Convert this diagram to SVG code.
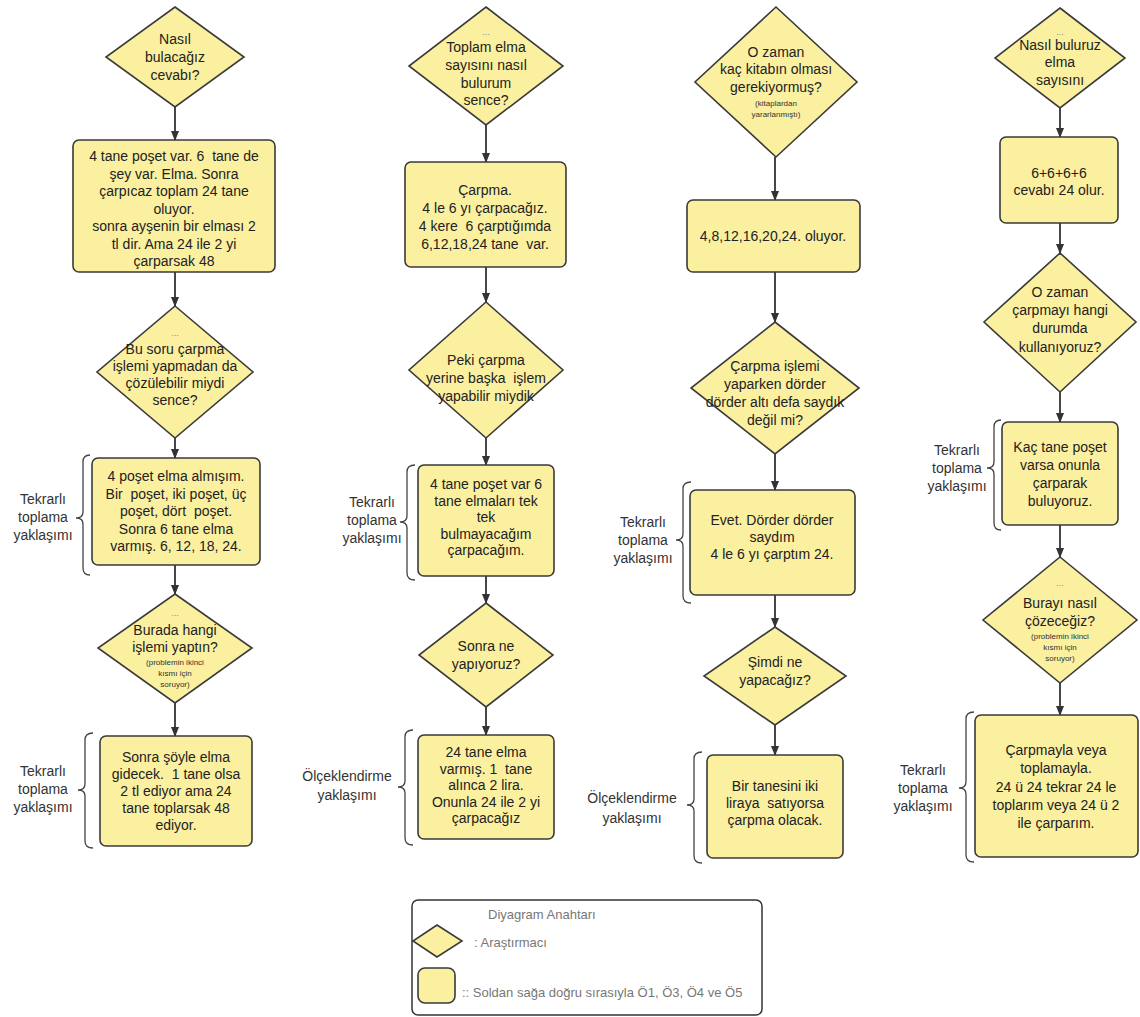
<svg xmlns="http://www.w3.org/2000/svg" width="1140" height="1017" viewBox="0 0 1140 1017">
<style>
text{white-space:pre}
.n{fill:#fbf0a0;stroke:#3a3a3a;stroke-width:1.6}
.t{font-family:"Liberation Sans",Arial,sans-serif;font-size:14px;fill:#222;text-anchor:middle}
.s{font-family:"Liberation Sans",Arial,sans-serif;font-size:8px;fill:#333;text-anchor:middle}
.d{font-family:"Liberation Sans",Arial,sans-serif;font-size:9px;fill:#888;text-anchor:middle}
.l{font-family:"Liberation Sans",Arial,sans-serif;font-size:14px;fill:#333;text-anchor:middle}
.c{fill:none;stroke:#333;stroke-width:1.8}
.b{fill:none;stroke:#444;stroke-width:1.3}
.k{font-family:"Liberation Sans",Arial,sans-serif;font-size:13px;fill:#777}
</style>
<defs>
<marker id="ah" markerWidth="10" markerHeight="10" refX="9" refY="5" orient="auto" markerUnits="userSpaceOnUse">
<path d="M0,1 L10,5 L0,9 z" fill="#333"/>
</marker>
</defs>
<rect width="1140" height="1017" fill="#ffffff"/>

<g id="connectors">
<line class="c" x1="175" y1="107" x2="175" y2="140" marker-end="url(#ah)"/>
<line class="c" x1="175" y1="272" x2="175" y2="306" marker-end="url(#ah)"/>
<line class="c" x1="175" y1="438" x2="175" y2="458" marker-end="url(#ah)"/>
<line class="c" x1="175" y1="565" x2="175" y2="594" marker-end="url(#ah)"/>
<line class="c" x1="175" y1="703" x2="175" y2="736" marker-end="url(#ah)"/>

<line class="c" x1="486" y1="125" x2="486" y2="162" marker-end="url(#ah)"/>
<line class="c" x1="486" y1="267" x2="486" y2="302" marker-end="url(#ah)"/>
<line class="c" x1="486" y1="438" x2="486" y2="465" marker-end="url(#ah)"/>
<line class="c" x1="486" y1="576" x2="486" y2="603" marker-end="url(#ah)"/>
<line class="c" x1="486" y1="707" x2="486" y2="735" marker-end="url(#ah)"/>

<line class="c" x1="775" y1="157" x2="775" y2="200" marker-end="url(#ah)"/>
<line class="c" x1="775" y1="272" x2="775" y2="322" marker-end="url(#ah)"/>
<line class="c" x1="775" y1="454" x2="775" y2="490" marker-end="url(#ah)"/>
<line class="c" x1="775" y1="595" x2="775" y2="627" marker-end="url(#ah)"/>
<line class="c" x1="775" y1="725" x2="775" y2="755" marker-end="url(#ah)"/>

<line class="c" x1="1060" y1="108" x2="1060" y2="137" marker-end="url(#ah)"/>
<line class="c" x1="1060" y1="223" x2="1060" y2="253" marker-end="url(#ah)"/>
<line class="c" x1="1060" y1="392" x2="1060" y2="422" marker-end="url(#ah)"/>
<line class="c" x1="1060" y1="525" x2="1060" y2="557" marker-end="url(#ah)"/>
<line class="c" x1="1060" y1="683" x2="1060" y2="715" marker-end="url(#ah)"/>
</g>

<!-- Column 1 -->
<g id="d1">
<polygon class="n" points="175,7 244,57 175,107 106,57"/>
<text class="t" x="175" y="44">Nasıl</text>
<text class="t" x="175" y="62">bulacağız</text>
<text class="t" x="175" y="80">cevabı?</text>
</g>
<g id="r1">
<rect class="n" x="73" y="140" width="202" height="132" rx="6"/>
<text class="t" x="174" y="161">4 tane poşet var. 6  tane de</text>
<text class="t" x="174" y="178.5">şey var. Elma. Sonra</text>
<text class="t" x="174" y="196">çarpıcaz toplam 24 tane</text>
<text class="t" x="174" y="213.5">oluyor.</text>
<text class="t" x="174" y="231">sonra ayşenin bir elması 2</text>
<text class="t" x="174" y="248.5">tl dir. Ama 24 ile 2 yi</text>
<text class="t" x="174" y="266">çarparsak 48</text>
</g>
<g id="d2">
<polygon class="n" points="175,306 253,372 175,438 97,372"/>
<text class="d" x="175" y="336">...</text>
<text class="t" x="175" y="354">Bu soru çarpma</text>
<text class="t" x="175" y="371">işlemi yapmadan da</text>
<text class="t" x="175" y="388">çözülebilir miydi</text>
<text class="t" x="175" y="405">sence?</text>
</g>
<g id="r2">
<rect class="n" x="92" y="458" width="168" height="107" rx="6"/>
<text class="t" x="176" y="481">4 poşet elma almışım.</text>
<text class="t" x="176" y="498.5">Bir  poşet, iki poşet, üç</text>
<text class="t" x="176" y="516">poşet, dört  poşet.</text>
<text class="t" x="176" y="533.5">Sonra 6 tane elma</text>
<text class="t" x="176" y="551">varmış. 6, 12, 18, 24.</text>
</g>
<g id="lab1">
<path class="b" d="M90,455 Q83,455 83,462 L83,512 Q83,518 76,518 Q83,518 83,524 L83,568 Q83,575 90,575"/>
<text class="l" x="43" y="504">Tekrarlı</text>
<text class="l" x="43" y="522">toplama</text>
<text class="l" x="43" y="540">yaklaşımı</text>
</g>
<g id="d3">
<polygon class="n" points="175,594 252,648 175,703 98,648"/>
<text class="d" x="175" y="616">...</text>
<text class="t" x="175" y="635">Burada hangi</text>
<text class="t" x="175" y="652">işlemi yaptın?</text>
<text class="s" x="175" y="665">(problemin ikinci</text>
<text class="s" x="175" y="676">kısmı için</text>
<text class="s" x="175" y="687">soruyor)</text>
</g>
<g id="r3">
<rect class="n" x="100" y="736" width="152" height="110" rx="6"/>
<text class="t" x="176" y="762">Sonra şöyle elma</text>
<text class="t" x="176" y="779">gidecek.  1 tane olsa</text>
<text class="t" x="176" y="796">2 tl ediyor ama 24</text>
<text class="t" x="176" y="813">tane toplarsak 48</text>
<text class="t" x="176" y="830">ediyor.</text>
</g>
<g id="lab2">
<path class="b" d="M93,733 Q85,733 85,740 L85,784 Q85,790 78,790 Q85,790 85,796 L85,841 Q85,848 93,848"/>
<text class="l" x="43" y="776">Tekrarlı</text>
<text class="l" x="43" y="794">toplama</text>
<text class="l" x="43" y="812">yaklaşımı</text>
</g>

<!-- Column 2 -->
<g id="d4">
<polygon class="n" points="486,7 563,66 486,125 409,66"/>
<text class="d" x="486" y="35">...</text>
<text class="t" x="486" y="52">Toplam elma</text>
<text class="t" x="486" y="70">sayısını nasıl</text>
<text class="t" x="486" y="88">bulurum</text>
<text class="t" x="486" y="105">sence?</text>
</g>
<g id="r4">
<rect class="n" x="405" y="162" width="161" height="105" rx="6"/>
<text class="t" x="485" y="195">Çarpma.</text>
<text class="t" x="485" y="213">4 le 6 yı çarpacağız.</text>
<text class="t" x="485" y="231">4 kere  6 çarptığımda</text>
<text class="t" x="485" y="249">6,12,18,24 tane  var.</text>
</g>
<g id="d5">
<polygon class="n" points="486,302 563,370 486,438 409,370"/>
<text class="t" x="486" y="365">Peki çarpma</text>
<text class="t" x="486" y="383">yerine başka  işlem</text>
<text class="t" x="486" y="401">yapabilir miydik</text>
</g>
<g id="r5">
<rect class="n" x="418" y="465" width="136" height="111" rx="6"/>
<text class="t" x="486" y="489">4 tane poşet var 6</text>
<text class="t" x="486" y="505.5">tane elmaları tek</text>
<text class="t" x="486" y="522">tek</text>
<text class="t" x="486" y="538.5">bulmayacağım</text>
<text class="t" x="486" y="555">çarpacağım.</text>
</g>
<g id="lab3">
<path class="b" d="M415,465 Q407,465 407,472 L407,516 Q407,522 400,522 Q407,522 407,528 L407,573 Q407,580 415,580"/>
<text class="l" x="372" y="507">Tekrarlı</text>
<text class="l" x="372" y="525">toplama</text>
<text class="l" x="372" y="543">yaklaşımı</text>
</g>
<g id="d6">
<polygon class="n" points="486,603 553,655 486,707 419,655"/>
<text class="t" x="486" y="651">Sonra ne</text>
<text class="t" x="486" y="669">yapıyoruz?</text>
</g>
<g id="r6">
<rect class="n" x="418" y="735" width="136" height="104" rx="6"/>
<text class="t" x="486" y="757">24 tane elma</text>
<text class="t" x="486" y="773.5">varmış. 1  tane</text>
<text class="t" x="486" y="790">alınca 2 lira.</text>
<text class="t" x="486" y="806.5">Onunla 24 ile 2 yi</text>
<text class="t" x="486" y="823">çarpacağız</text>
</g>
<g id="lab4">
<path class="b" d="M413,730 Q405,730 405,737 L405,781 Q405,787 398,787 Q405,787 405,793 L405,838 Q405,845 413,845"/>
<text class="l" x="347" y="781">Ölçeklendirme</text>
<text class="l" x="347" y="800">yaklaşımı</text>
</g>

<!-- Column 3 -->
<g id="d7">
<polygon class="n" points="776,7 857,82 776,157 695,82"/>
<text class="t" x="776" y="57">O zaman</text>
<text class="t" x="776" y="74">kaç kitabın olması</text>
<text class="t" x="776" y="92">gerekiyormuş?</text>
<text class="s" x="776" y="106">(kitaplardan</text>
<text class="s" x="776" y="117">yararlanmıştı)</text>
</g>
<g id="r7">
<rect class="n" x="687" y="200" width="173" height="72" rx="6"/>
<text class="t" x="773" y="241">4,8,12,16,20,24. oluyor.</text>
</g>
<g id="d8">
<polygon class="n" points="775,322 859,388 775,454 691,388"/>
<text class="t" x="775" y="371">Çarpma işlemi</text>
<text class="t" x="775" y="389">yaparken dörder</text>
<text class="t" x="775" y="407">dörder altı defa saydık</text>
<text class="t" x="775" y="425">değil mi?</text>
</g>
<g id="r8">
<rect class="n" x="690" y="490" width="165" height="105" rx="6"/>
<text class="t" x="772" y="525">Evet. Dörder dörder</text>
<text class="t" x="772" y="542">saydım</text>
<text class="t" x="772" y="559">4 le 6 yı çarptım 24.</text>
</g>
<g id="lab5">
<path class="b" d="M691,482 Q683,482 683,489 L683,534 Q683,540 676,540 Q683,540 683,546 L683,596 Q683,603 691,603"/>
<text class="l" x="643" y="527">Tekrarlı</text>
<text class="l" x="643" y="545">toplama</text>
<text class="l" x="643" y="563">yaklaşımı</text>
</g>
<g id="d9">
<polygon class="n" points="775,627 846,676 775,725 704,676"/>
<text class="t" x="775" y="667">Şimdi ne</text>
<text class="t" x="775" y="685">yapacağız?</text>
</g>
<g id="r9">
<rect class="n" x="707" y="755" width="136" height="103" rx="6"/>
<text class="t" x="775" y="791">Bir tanesini iki</text>
<text class="t" x="775" y="808">liraya  satıyorsa</text>
<text class="t" x="775" y="825">çarpma olacak.</text>
</g>
<g id="lab6">
<path class="b" d="M702,752 Q694,752 694,759 L694,799 Q694,805 687,805 Q694,805 694,811 L694,856 Q694,863 702,863"/>
<text class="l" x="632" y="803">Ölçeklendirme</text>
<text class="l" x="632" y="823">yaklaşımı</text>
</g>

<!-- Column 4 -->
<g id="d10">
<polygon class="n" points="1060,8 1125,58 1060,108 995,58"/>
<text class="d" x="1060" y="35">...</text>
<text class="t" x="1060" y="50">Nasıl buluruz</text>
<text class="t" x="1060" y="67">elma</text>
<text class="t" x="1060" y="85">sayısını</text>
</g>
<g id="r10">
<rect class="n" x="1000" y="137" width="118" height="86" rx="6"/>
<text class="t" x="1059" y="178">6+6+6+6</text>
<text class="t" x="1059" y="195">cevabı 24 olur.</text>
</g>
<g id="d11">
<polygon class="n" points="1060,253 1136,322 1060,392 984,322"/>
<text class="t" x="1060" y="297">O zaman</text>
<text class="t" x="1060" y="315">çarpmayı hangi</text>
<text class="t" x="1060" y="333">durumda</text>
<text class="t" x="1060" y="352">kullanıyoruz?</text>
</g>
<g id="r11">
<rect class="n" x="1002" y="422" width="116" height="103" rx="6"/>
<text class="t" x="1060" y="452">Kaç tane poşet</text>
<text class="t" x="1060" y="470">varsa onunla</text>
<text class="t" x="1060" y="488">çarparak</text>
<text class="t" x="1060" y="506">buluyoruz.</text>
</g>
<g id="lab7">
<path class="b" d="M1001,420 Q994,420 994,427 L994,462 Q994,468 987,468 Q994,468 994,474 L994,523 Q994,530 1001,530"/>
<text class="l" x="957" y="455">Tekrarlı</text>
<text class="l" x="957" y="473">toplama</text>
<text class="l" x="957" y="491">yaklaşımı</text>
</g>
<g id="d12">
<polygon class="n" points="1060,557 1137,620 1060,683 983,620"/>
<text class="d" x="1060" y="586">...</text>
<text class="t" x="1060" y="608">Burayı nasıl</text>
<text class="t" x="1060" y="626">çözeceğiz?</text>
<text class="s" x="1060" y="639">(problemin ikinci</text>
<text class="s" x="1060" y="650">kısmı için</text>
<text class="s" x="1060" y="661">soruyor)</text>
</g>
<g id="r12">
<rect class="n" x="975" y="715" width="163" height="142" rx="6"/>
<text class="t" x="1056" y="755">Çarpmayla veya</text>
<text class="t" x="1056" y="773">toplamayla.</text>
<text class="t" x="1056" y="792">24 ü 24 tekrar 24 le</text>
<text class="t" x="1056" y="810">toplarım veya 24 ü 2</text>
<text class="t" x="1056" y="828">ile çarparım.</text>
</g>
<g id="lab8">
<path class="b" d="M974,712 Q966,712 966,719 L966,782 Q966,788 959,788 Q966,788 966,794 L966,855 Q966,862 974,862"/>
<text class="l" x="923" y="775">Tekrarlı</text>
<text class="l" x="923" y="793">toplama</text>
<text class="l" x="923" y="811">yaklaşımı</text>
</g>

<!-- Legend -->
<g id="legend">
<rect x="412" y="900" width="350" height="115" rx="6" fill="#ffffff" stroke="#333" stroke-width="1.5"/>
<text class="k" x="488" y="919">Diyagram Anahtarı</text>
<polygon class="n" points="437,925 462,941 437,957 413,941"/>
<text class="k" x="474" y="947">: Araştırmacı</text>
<rect class="n" x="418" y="968" width="37" height="35" rx="7"/>
<text class="k" x="462" y="997">:: Soldan sağa doğru sırasıyla Ö1, Ö3, Ö4 ve Ö5</text>
</g>
</svg>
